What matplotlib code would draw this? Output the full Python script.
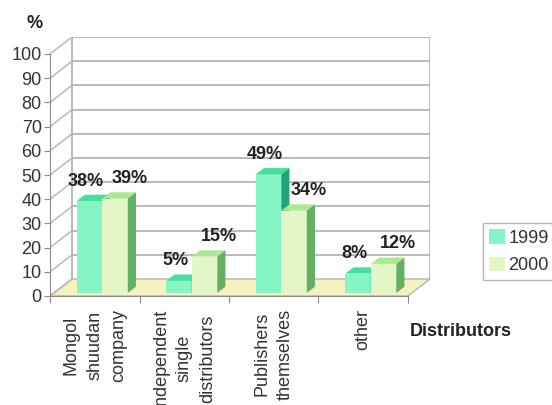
import matplotlib
matplotlib.use("Agg")
import matplotlib.pyplot as plt
from matplotlib.patches import Polygon, Patch

plt.rcParams['font.family'] = ['Liberation Sans', 'DejaVu Sans']

# data
categories = ["Mongol\nshuudan\ncompany", "Independent\nsingle\ndistributors",
              "Publishers\nthemselves", "other"]
years = ["1999", "2000"]
share_1999 = [38, 5, 49, 8]
share_2000 = [39, 15, 34, 12]

# colours: front, top, side
cols = {
    "1999": ("#86f5c6", "#44e0a0", "#22a47a"),
    "2000": ("#e4f6c8", "#ace98e", "#62b062"),
}
grid_c = "#b4b4b4"
axis_c = "#8a8a8a"
floor_c = "#f6f2c0"
fs = 13

# 3D look: shift of the back wall in data units
DX = 0.246
DY = 7.02


def proj(x, y, d):
    return (x + d * DX, y + d * DY)


fig = plt.figure(figsize=(5.52, 4.05), dpi=100)
ax = fig.add_axes([50 / 552, 109 / 405, 380 / 552, 259 / 405])
ax.set_xlim(0, 380 / 89.5)
ax.set_ylim(0, 259 / 2.42)
ax.patch.set_alpha(0)

n = len(categories)

# floor
ax.add_patch(Polygon([proj(0, 0, 0), proj(n, 0, 0), proj(n, 0, 1), proj(0, 0, 1)],
                     closed=True, fc=floor_c, ec=grid_c, lw=1, zorder=1))
# back wall grid + side wall diagonals
for v in range(0, 101, 10):
    x0, y0 = proj(0, v, 1)
    x1, y1 = proj(n, v, 1)
    if v > 0:
        ax.plot([x0, x1], [y0, y1], color=grid_c, lw=1.3, zorder=1)
    xa, ya = proj(0, v, 0)
    ax.plot([xa, x0], [ya, y0], color=grid_c, lw=1.0, zorder=1)
for xx in (0, n):
    x0, y0 = proj(xx, 0, 1)
    x1, y1 = proj(xx, 100, 1)
    ax.plot([x0, x1], [y0, y1], color=grid_c, lw=1.3, zorder=1)

# bars
w = 0.285
d0, d1 = 0.18, 0.55
for i in range(n):
    for j, (yr, vals) in enumerate(zip(years, [share_1999, share_2000])):
        v = vals[i]
        front, top, side = cols[yr]
        xl = i + 0.255 + j * w
        xr = xl + w
        fx, fy = proj(xl, 0, d0)
        ax.bar(fx, v, width=w, bottom=fy, align='edge', color=front,
               lw=0, zorder=3)
        ax.add_patch(Polygon([proj(xl, v, d0), proj(xr, v, d0), proj(xr, v, d1), proj(xl, v, d1)],
                             closed=True, fc=top, lw=0, zorder=3))
        ax.add_patch(Polygon([proj(xr, 0, d0), proj(xr, v, d0), proj(xr, v, d1), proj(xr, 0, d1)],
                             closed=True, fc=side, lw=0, zorder=3))
        lx = xl + w / 2 + (0.0 if j == 0 else 0.21)
        ax.text(lx, v + 9.5, f"{v}%", ha='center', va='center', fontsize=fs,
                fontweight='bold', color='#222222', zorder=5)

# axes
for s in ("top", "right"):
    ax.spines[s].set_visible(False)
ax.spines["left"].set_bounds(0, 100)
ax.spines["bottom"].set_bounds(0, n)
ax.spines["left"].set_color(axis_c)
ax.spines["bottom"].set_color(axis_c)
ax.set_yticks(range(0, 101, 10))
ax.tick_params(axis='y', length=4, color=axis_c, labelsize=fs, labelcolor='#333333', pad=2)
ax.set_xticks(range(n + 1))
ax.set_xticklabels([])
ax.tick_params(axis='x', which='major', length=5, color=axis_c)
ax.set_xticks([i + 0.5 for i in range(n)], minor=True)
ax.set_xticklabels(categories, minor=True, rotation=90, fontsize=fs, color='#333333',
                   va='top', ha='center', multialignment='center', linespacing=1.5)
ax.tick_params(axis='x', which='minor', length=0, pad=9)

fig.text(35 / 552, 1 - 23 / 405, "%", ha='center', va='center', fontsize=fs,
         fontweight='bold', color='#222222')
fig.text(461 / 552, 1 - 332 / 405, "Distributors", ha='center', va='center',
         fontsize=fs, fontweight='bold', color='#222222')

handles = [Patch(fc=cols[y][0], ec='none') for y in years]
leg = fig.legend(handles, years, loc='upper left', bbox_to_anchor=(483 / 552, 1 - 223 / 405),
                 fontsize=fs, frameon=True, fancybox=False, edgecolor='#a0a0a0',
                 handlelength=0.85, handleheight=0.85, handletextpad=0.2,
                 labelspacing=0.55, borderpad=0.35, borderaxespad=0)
leg.get_frame().set_linewidth(1.0)
for t in leg.get_texts():
    t.set_color('#333333')

fig.savefig("out.png", dpi=100)
